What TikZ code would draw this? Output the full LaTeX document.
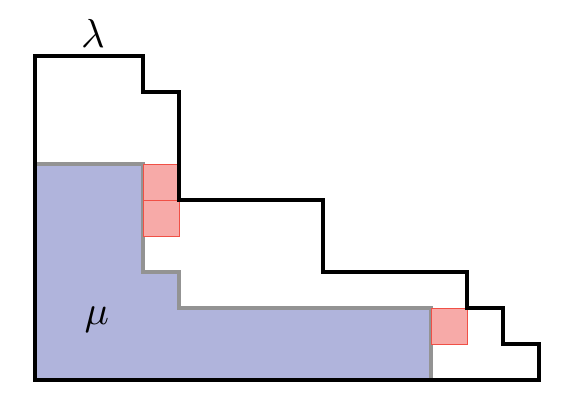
\documentclass[tikz,border=0pt]{standalone}
\begin{document}
\begin{tikzpicture}[x=1cm,y=1cm,
  outline/.style={draw=black,line width=2.6pt,line join=miter},
  inner/.style={draw=gray!85,fill={rgb,255:red,176;green,180;blue,220},line width=2.6pt},
  addbox/.style={draw={rgb,255:red,240;green,80;blue,70},fill={rgb,255:red,247;green,170;blue,168},line width=0.7pt},
  lbl/.style={scale=3.2}]
\useasboundingbox (-0.972,-0.972) rectangle (15.028,10.556);
\draw[inner] (0,6) -- (3,6) -- (3,3) -- (4,3) -- (4,2) -- (11,2) -- (11,0) -- (0,0) -- cycle;
\draw[addbox] (3,5) rectangle (4,6);
\draw[addbox] (3,4) rectangle (4,5);
\draw[addbox] (11,1) rectangle (12,2);
\draw[outline] (0,9) -- (3,9) -- (3,8) -- (4,8) -- (4,5) -- (8,5) -- (8,3) -- (12,3) -- (12,2) -- (13,2) -- (13,1) -- (14,1) -- (14,0) -- (0,0) -- cycle;
\node[lbl] (lam) at (1.61,9.62) {$\lambda$};
\node[lbl] (mu) at (1.72,1.68) {$\mu$};
\end{tikzpicture}
\end{document}
